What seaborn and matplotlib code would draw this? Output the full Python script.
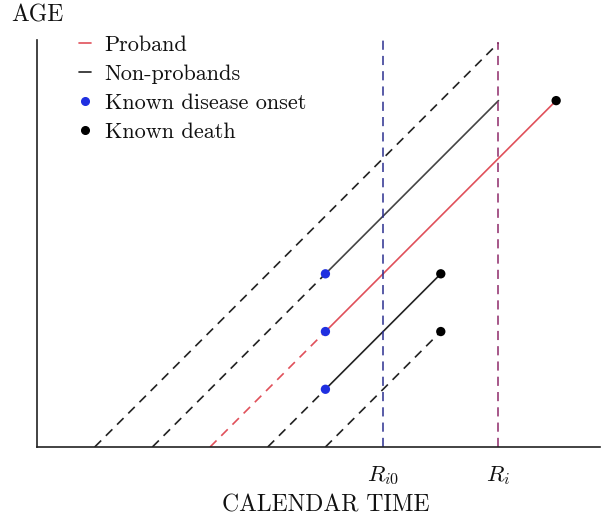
import matplotlib
matplotlib.use("Agg")
import matplotlib.pyplot as plt
import seaborn as sns
import pandas as pd
from matplotlib.lines import Line2D

# ---- data (calendar time units; age = time - birth) ----
births = [1, 2, 3, 4, 5]
onset_times = [None, 5, 5, 5, None]      # known disease onset (None = none)
end_times = [8, 8, 9, 7, 7]              # end of follow-up / death
known_death = [False, False, True, True, True]
is_proband = [False, False, True, False, False]
ref_times = [6, 8]                        # R_i0, R_i
ref_labels = [r"$R_{i0}$", r"$R_i$"]
legend_labels = ["Proband", "Non-probands", "Known disease onset", "Known death"]

sns.set_theme(style="white")
plt.rcParams["font.family"] = ["cmr10", "DejaVu Serif"]
plt.rcParams["mathtext.fontset"] = "cm"
plt.rcParams["axes.formatter.use_mathtext"] = True

fig = plt.figure(figsize=(6.05, 5.21), dpi=100)
ax = fig.add_axes([37 / 605, 74 / 521, 563 / 605, 407 / 521])
ax.set_xlim(0, 9.76)
ax.set_ylim(0, 7.05)

RED = "#e0505a"
NAVY = "#2b2f8f"
PURPLE = "#8e2a6a"
BLUE = "#1f2fe0"
dash = (5.5, 4)

# build segments table
rows = []
for i, (b, on, en, pr) in enumerate(zip(births, onset_times, end_times, is_proband)):
    split = on if on is not None else en
    rows.append(dict(seg=f"{i}a", t=b, age=0, kind="pre", pro=pr, idx=i))
    rows.append(dict(seg=f"{i}a", t=split, age=split - b, kind="pre", pro=pr, idx=i))
    if on is not None:
        rows.append(dict(seg=f"{i}b", t=on, age=on - b, kind="post", pro=pr, idx=i))
        rows.append(dict(seg=f"{i}b", t=en, age=en - b, kind="post", pro=pr, idx=i))
df = pd.DataFrame(rows)

for seg, g in df.groupby("seg"):
    pr = g["pro"].iloc[0]
    kind = g["kind"].iloc[0]
    idx = g["idx"].iloc[0]
    if pr:
        color = RED
    elif kind == "post" and idx == 1:
        color = "#444444"
    else:
        color = "#222222"
    ls = (0, dash) if kind == "pre" else "-"
    sns.lineplot(data=g, x="t", y="age", ax=ax, color=color, linewidth=1.2,
                 linestyle=ls, estimator=None, sort=False)

# reference vertical lines
for rt, col, top in zip(ref_times, [NAVY, PURPLE], [7.05, 7.02]):
    sns.lineplot(x=[rt, rt], y=[0, top], ax=ax, color=col, linewidth=1.1,
                 linestyle=(0, (6, 4)), estimator=None)

# onset and death points
on_df = pd.DataFrame({"t": [o for o in onset_times if o is not None],
                      "age": [o - b for o, b in zip(onset_times, births) if o is not None]})
de_df = pd.DataFrame({"t": [e for e, d in zip(end_times, known_death) if d],
                      "age": [e - b for e, b, d in zip(end_times, births, known_death) if d]})
sns.scatterplot(data=on_df, x="t", y="age", ax=ax, color=BLUE, s=45, edgecolor="none", zorder=5)
sns.scatterplot(data=de_df, x="t", y="age", ax=ax, color="black", s=45, edgecolor="none", zorder=5)

# axes styling
for sp in ["top", "right"]:
    ax.spines[sp].set_visible(False)
for sp in ["left", "bottom"]:
    ax.spines[sp].set_color("#222222")
    ax.spines[sp].set_linewidth(1.2)
ax.set_xticks([])
ax.set_yticks([])
ax.set_xlabel("")
ax.set_ylabel("")

for rt, lab in zip(ref_times, ref_labels):
    ax.text(rt, -0.5, lab, ha="center", va="center", fontsize=16.5, color="#111111")

fig.text(326 / 605, 1 - 505 / 521, "CALENDAR TIME", ha="center", va="center",
         fontsize=17, color="#111111")
fig.text(37 / 605, 1 - 15 / 521, "AGE", ha="center", va="center",
         fontsize=17, color="#111111")

handles = [
    Line2D([0], [0], color=RED, lw=1.2),
    Line2D([0], [0], color="#222222", lw=1.2),
    Line2D([0], [0], color=BLUE, marker="o", ls="none", markersize=5.5),
    Line2D([0], [0], color="black", marker="o", ls="none", markersize=5.5),
]
leg = ax.legend(handles, legend_labels, loc="upper left",
                bbox_to_anchor=(79 / 605, 1 - 35 / 521), bbox_transform=fig.transFigure,
                frameon=False, fontsize=16, handlelength=0.55, handletextpad=0.6,
                labelspacing=0.43, borderpad=0, borderaxespad=0)
for t in leg.get_texts():
    t.set_color("#111111")

fig.savefig("out.png", dpi=100)
